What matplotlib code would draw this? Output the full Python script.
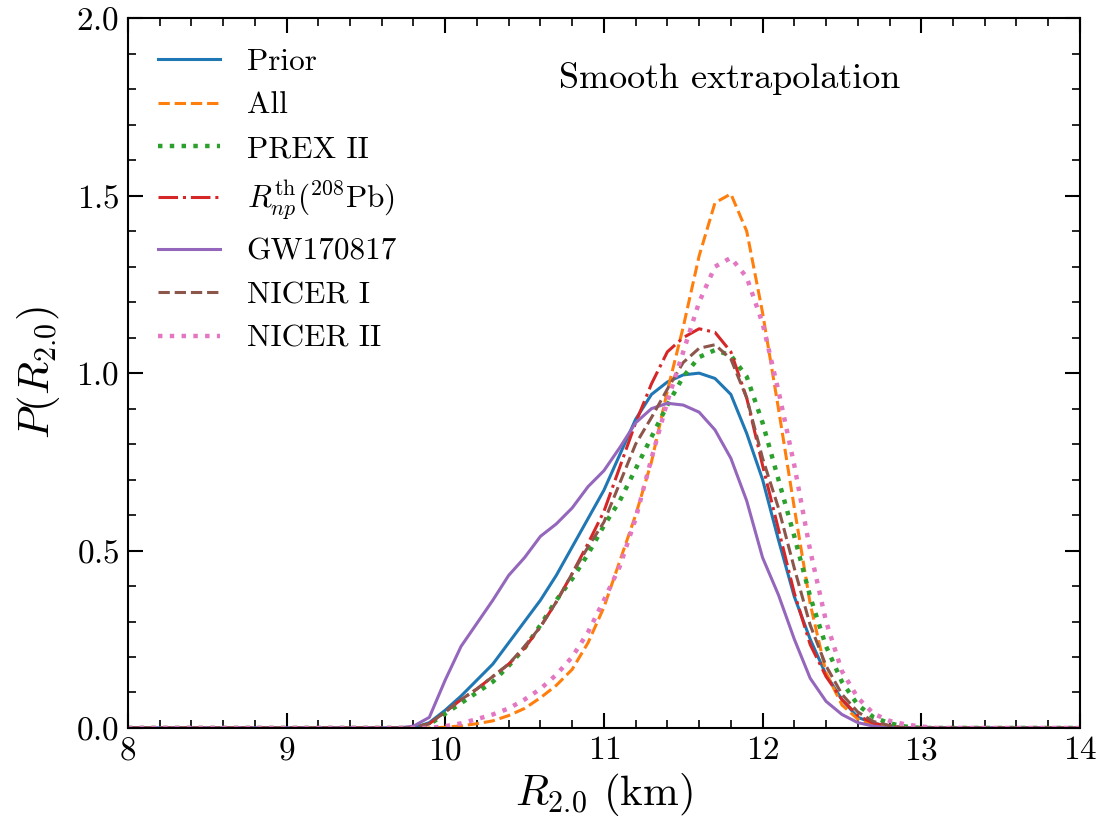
import matplotlib
matplotlib.use('Agg')
import matplotlib.pyplot as plt
from matplotlib.ticker import MultipleLocator

plt.rcParams['font.family'] = 'serif'
plt.rcParams['font.serif'] = ['cmr10']
plt.rcParams['mathtext.fontset'] = 'cm'
plt.rcParams['axes.formatter.use_mathtext'] = True

# radius grid (km)
r = [8.0, 9.7, 9.8, 9.9, 10.0, 10.1, 10.2, 10.3, 10.4, 10.5, 10.6, 10.7, 10.8,
     10.9, 11.0, 11.1, 11.2, 11.3, 11.4, 11.5, 11.6, 11.7, 11.8, 11.9, 12.0,
     12.1, 12.2, 12.3, 12.4, 12.5, 12.6, 12.7, 12.8, 12.9, 13.0, 13.1, 14.0]

# P(R_2.0) for each constraint set
prior = [0, 0, 0, 0.015, 0.05, 0.09, 0.135, 0.18, 0.24, 0.30, 0.36, 0.43, 0.51,
         0.59, 0.67, 0.77, 0.87, 0.94, 0.975, 0.995, 1.0, 0.985, 0.94, 0.83, 0.70,
         0.53, 0.37, 0.25, 0.15, 0.08, 0.03, 0.013, 0.005, 0, 0, 0, 0]
all_data = [0, 0, 0, 0, 0.002, 0.006, 0.012, 0.02, 0.035, 0.055, 0.085, 0.12, 0.165,
            0.24, 0.34, 0.47, 0.60, 0.75, 0.95, 1.13, 1.33, 1.48, 1.505, 1.40, 1.17,
            0.90, 0.62, 0.35, 0.155, 0.065, 0.025, 0.008, 0.002, 0, 0, 0, 0]
prex = [0, 0, 0, 0.01, 0.04, 0.07, 0.10, 0.13, 0.175, 0.225, 0.29, 0.36, 0.42,
        0.49, 0.57, 0.64, 0.73, 0.82, 0.91, 0.99, 1.045, 1.065, 1.05, 0.99, 0.86,
        0.70, 0.54, 0.37, 0.23, 0.13, 0.065, 0.03, 0.013, 0.004, 0, 0, 0]
rnp = [0, 0, 0, 0.012, 0.045, 0.08, 0.11, 0.145, 0.18, 0.225, 0.285, 0.355, 0.435,
       0.52, 0.61, 0.735, 0.86, 0.97, 1.06, 1.10, 1.125, 1.115, 1.06, 0.93, 0.74,
       0.56, 0.38, 0.235, 0.145, 0.08, 0.035, 0.013, 0.004, 0, 0, 0, 0]
gw = [0, 0, 0.005, 0.03, 0.135, 0.23, 0.295, 0.36, 0.43, 0.48, 0.54, 0.575, 0.62,
      0.68, 0.725, 0.79, 0.86, 0.90, 0.915, 0.91, 0.89, 0.84, 0.76, 0.64, 0.48,
      0.375, 0.25, 0.14, 0.075, 0.038, 0.015, 0.005, 0, 0, 0, 0, 0]
nicer1 = [0, 0, 0, 0.012, 0.045, 0.08, 0.11, 0.145, 0.18, 0.23, 0.285, 0.355, 0.435,
          0.51, 0.58, 0.69, 0.80, 0.875, 0.955, 1.03, 1.07, 1.08, 1.04, 0.93, 0.76,
          0.62, 0.45, 0.29, 0.175, 0.095, 0.045, 0.018, 0.007, 0, 0, 0, 0]
nicer2 = [0, 0, 0, 0, 0.005, 0.013, 0.025, 0.038, 0.055, 0.08, 0.11, 0.15, 0.20,
          0.27, 0.36, 0.455, 0.59, 0.76, 0.92, 1.06, 1.20, 1.30, 1.325, 1.27, 1.14,
          0.95, 0.74, 0.50, 0.30, 0.16, 0.085, 0.04, 0.02, 0.01, 0.004, 0, 0]

fig = plt.figure(figsize=(11.02, 8.31), dpi=100)
ax = fig.add_axes([0.116, 0.124, 0.864, 0.854])

lw = 2.2
ax.plot(r, prior, color='tab:blue', ls='-', lw=lw, label='Prior')
ax.plot(r, all_data, color='tab:orange', ls='--', lw=lw, label='All')
ax.plot(r, prex, color='tab:green', ls=':', lw=3.2, label='PREX II')
ax.plot(r, rnp, color='tab:red', ls='-.', lw=lw,
        label=r'$R_{np}^{\rm th}(^{208}{\rm Pb})$')
ax.plot(r, gw, color='tab:purple', ls='-', lw=lw, label='GW170817')
ax.plot(r, nicer1, color='tab:brown', ls='--', lw=lw, label='NICER I')
ax.plot(r, nicer2, color='tab:pink', ls=':', lw=3.2, label='NICER II')

ax.set_xlim(8, 14)
ax.set_ylim(0, 2.0)
ax.xaxis.set_major_locator(MultipleLocator(1))
ax.xaxis.set_minor_locator(MultipleLocator(0.2))
ax.yaxis.set_major_locator(MultipleLocator(0.5))
ax.yaxis.set_minor_locator(MultipleLocator(0.1))
ax.tick_params(which='both', direction='in', top=True, right=True, labelsize=24)
ax.tick_params(which='major', length=11, width=1.5, pad=6)
ax.tick_params(which='minor', length=6, width=1.2)
for s in ax.spines.values():
    s.set_linewidth(1.5)

ax.set_xlabel(r'$R_{2.0}$ (km)', fontsize=31, labelpad=4)
ax.set_ylabel(r'$P(R_{2.0})$', fontsize=31, labelpad=10)

ax.text(0.632, 0.915, 'Smooth extrapolation', transform=ax.transAxes,
        ha='center', va='center', fontsize=26)

ax.legend(loc='upper left', frameon=False, fontsize=22.5, handlelength=2.0,
          handletextpad=0.85, labelspacing=0.5, borderaxespad=0.55)

fig.savefig('out.png', dpi=100)
